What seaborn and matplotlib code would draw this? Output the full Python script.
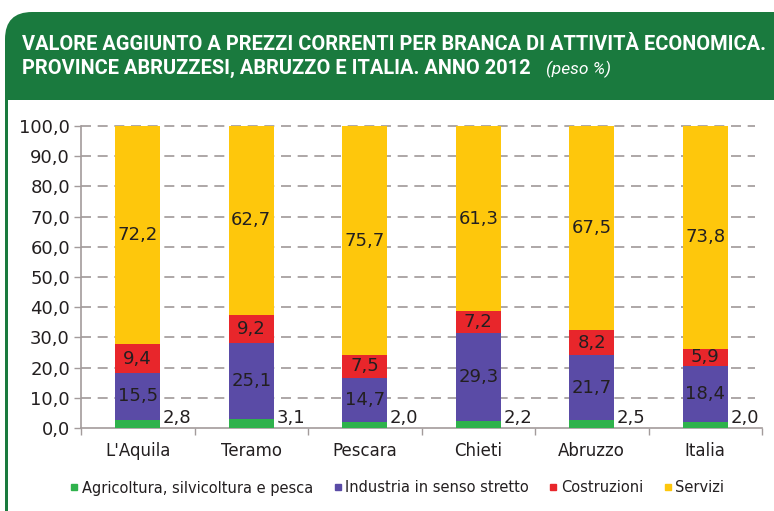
import matplotlib
matplotlib.use("Agg")
import matplotlib.pyplot as plt
import seaborn as sns
import numpy as np
from matplotlib.patches import FancyBboxPatch, Rectangle
from matplotlib.lines import Line2D

categories = ["L'Aquila", "Teramo", "Pescara", "Chieti", "Abruzzo", "Italia"]
agricoltura = [2.8, 3.1, 2.0, 2.2, 2.5, 2.0]
industria = [15.5, 25.1, 14.7, 29.3, 21.7, 18.4]
costruzioni = [9.4, 9.2, 7.5, 7.2, 8.2, 5.9]
servizi = [72.2, 62.7, 75.7, 61.3, 67.5, 73.8]
series_names = ["Agricoltura, silvicoltura e pesca", "Industria in senso stretto",
                "Costruzioni", "Servizi"]
y_ticks = [0, 10, 20, 30, 40, 50, 60, 70, 80, 90, 100]

colors = ["#2fb24c", "#5a4ba6", "#e8262b", "#fec70c"]
series = [agricoltura, industria, costruzioni, servizi]

sns.set_style("white")
plt.rcParams['font.family'] = ['DejaVu Sans']

W, H = 774, 511
fig = plt.figure(figsize=(W / 100, H / 100), dpi=100)

def fx(px):
    return px / W

def fy(py):
    return 1 - py / H

# frame
green = "#1a7a3e"
frame = FancyBboxPatch((fx(5), fy(600)), fx(900), fy(12) - fy(600),
                       boxstyle="round,pad=0,rounding_size=0.035",
                       transform=fig.transFigure, facecolor=green,
                       edgecolor="none", zorder=0, mutation_aspect=W / H)
fig.patches.append(frame)
fig.patches.append(Rectangle((fx(8), fy(600)), fx(900), fy(100) - fy(600),
                             transform=fig.transFigure, facecolor="white",
                             edgecolor="none", zorder=1))

title_font = ['Roboto', 'DejaVu Sans']
fig.text(fx(22), fy(45), "VALORE AGGIUNTO A PREZZI CORRENTI PER BRANCA DI ATTIVITÀ ECONOMICA.",
         color="white", fontsize=14.4, fontweight="bold", family=title_font,
         va="center", ha="left", zorder=3)
fig.text(fx(22), fy(68), "PROVINCE ABRUZZESI, ABRUZZO E ITALIA. ANNO 2012",
         color="white", fontsize=14.4, fontweight="bold", family=title_font,
         va="center", ha="left", zorder=3)
fig.text(fx(546), fy(69), "(peso %)", color="white", fontsize=12.5,
         style="italic", family=['Roboto', 'DejaVu Sans'], va="center", ha="left", zorder=3)

ax = fig.add_axes([fx(81), fy(428), fx(762) - fx(81), fy(126) - fy(428)])
ax.set_zorder(2)
ax.patch.set_alpha(0)

bottom = np.zeros(len(categories))
for vals, col, name in zip(series, colors, series_names):
    sns.barplot(x=categories, y=vals, bottom=bottom, color=col, width=0.4,
                saturation=1, ax=ax, zorder=3, label=name, linewidth=0,
                edgecolor=col)
    bottom = bottom + np.array(vals)

ax.set_xlim(-0.5, 5.5)
ax.set_ylim(0, 100)
ax.set_yticks(y_ticks)
ax.set_yticklabels([f"{v:.1f}".replace(".", ",") for v in y_ticks], fontsize=13, color="#231f20")
ax.tick_params(axis="y", length=5, width=1, color="#a39b9b", pad=3, left=True)
ax.tick_params(axis="x", length=0, pad=10, labelsize=12, labelcolor="#231f20")
ax.set_xticks(np.arange(-0.5, 6, 1), minor=True)
ax.tick_params(axis="x", which="minor", length=5, width=1, color="#a39b9b", bottom=True)

for s in ["top", "right"]:
    ax.spines[s].set_visible(False)
for s in ["left", "bottom"]:
    ax.spines[s].set_color("#a39b9b")
    ax.spines[s].set_linewidth(1.2)

for v in y_ticks[1:]:
    ax.axhline(v, xmin=0, xmax=0.99, color="#a09898", lw=1.2,
               ls=(0, (6, 4)), zorder=1, clip_on=False)

# value labels
lab_font = dict(fontsize=13, color="#231f20")
for i in range(len(categories)):
    ax.text(i + 0.22, 3.3, f"{agricoltura[i]:.1f}".replace(".", ","),
            ha="left", va="center", zorder=5, **lab_font)
    b = agricoltura[i]
    for vals in series[1:]:
        ax.text(i, b + vals[i] / 2, f"{vals[i]:.1f}".replace(".", ","),
                ha="center", va="center", zorder=5, **lab_font)
        b += vals[i]

ax.set_xlabel("")
ax.set_ylabel("")
if ax.get_legend():
    ax.get_legend().remove()

handles = [Line2D([0], [0], marker="s", color="none", markerfacecolor=c,
                  markeredgecolor=c, markersize=5) for c in colors]
fig.legend(handles, series_names, loc="center", bbox_to_anchor=(fx(397), fy(488)),
           ncol=4, frameon=False, fontsize=10.5, handlelength=0.6,
           handletextpad=0.2, columnspacing=1.4, labelcolor="#231f20")

fig.savefig("out.png", dpi=100)
